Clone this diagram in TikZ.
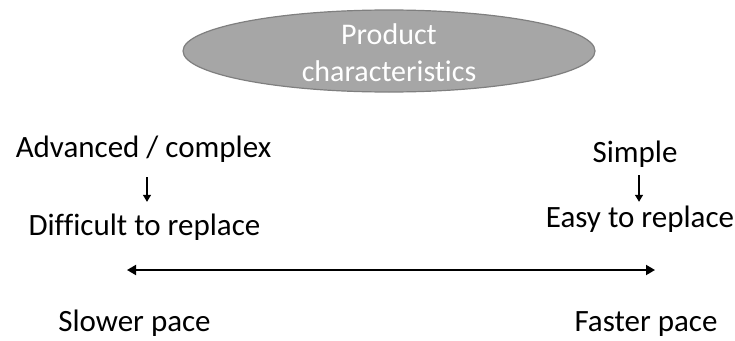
\documentclass[tikz,border=0pt]{standalone}
\usepackage{fontspec}
\setmainfont{Carlito}[Ligatures=NoCommon]
\usepackage{tikz}
\usetikzlibrary{shapes.geometric, positioning, arrows.meta}
\definecolor{ovalgray}{HTML}{A6A6A6}
\definecolor{ovaledge}{HTML}{7F7F7F}

\begin{document}
\begin{tikzpicture}[
  x=1pt, y=-1pt,
  lnode/.style={inner sep=0pt, anchor=base, text height=23pt, text depth=8pt,
    font=\fontsize{31}{37}\selectfont},
  onode/.style={draw=ovaledge, fill=ovalgray, ellipse, line width=1.2pt, inner sep=0pt,
    minimum width=412pt, minimum height=82pt},
  >={Triangle[length=7pt, width=8pt]}
]
  \useasboundingbox (0,0) rectangle (735,340);

  % 1. Top oval
  \node[onode] (prod) at (389,51) {};
  \node[text=white, align=center, font=\fontsize{30}{37}\selectfont]
    (ptext) at ([yshift=-2pt]prod.center) {Product\\characteristics};

  % 2. Left column
  \node[lnode] (adv) at (143.5,157) {Advanced / complex};
  \node[lnode] (diff) at (144.5,235) {Difficult to replace};

  % 3. Right column
  \node[lnode] (simp) at (635,162) {Simple};
  \node[lnode] (easy) at (640,227) {Easy to replace};

  % 4. Bottom labels
  \node[lnode] (slow) at (134.5,331) {Slower pace};
  \node[lnode] (fast) at (646,331) {Faster pace};

  % 5. Small down arrows
  \draw[->, line width=1.3pt, shorten <=12pt, shorten >=10pt]
    ([xshift=3.5pt]adv.south) -- ([xshift=3.5pt]adv.south |- diff.north);
  \draw[->, line width=1.3pt, shorten <=5pt, shorten >=2pt]
    ([xshift=4pt]simp.south) -- ([xshift=4pt]simp.south |- easy.north);

  % 6. Pace axis
  \coordinate (pl) at (127,270);
  \coordinate (pr) at (655,270);
  \draw[<->, line width=1.8pt, >={Triangle[length=9pt, width=10pt]}] (pl) -- (pr);
\end{tikzpicture}
\end{document}
